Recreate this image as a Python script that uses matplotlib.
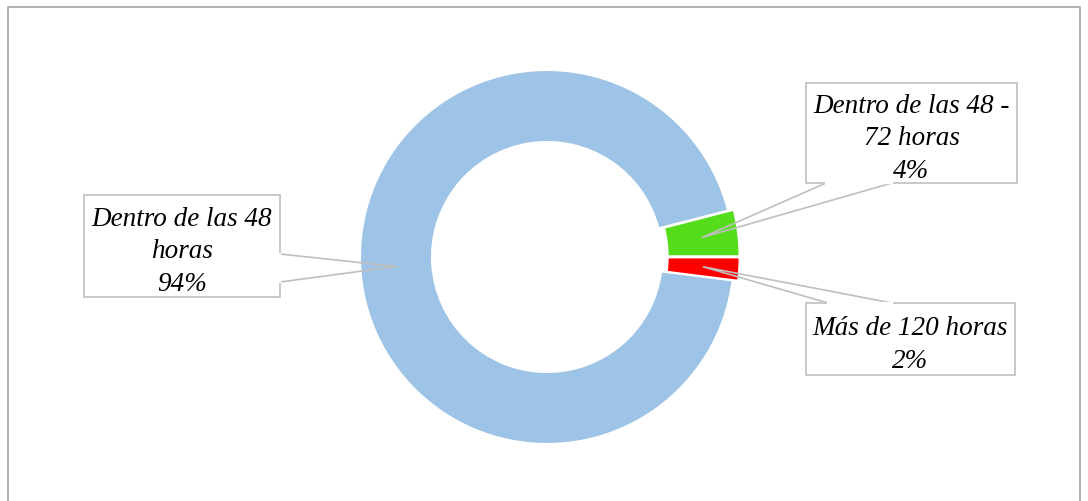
"""
Donut chart: tiempo de respuesta (recreation).
"""
import numpy as np
import matplotlib
matplotlib.use('Agg')
import matplotlib.pyplot as plt
from matplotlib.patches import Rectangle

# Data
labels = ['Dentro de las 48\nhoras', 'Dentro de las 48 -\n72 horas', 'Más de 120 horas']
values = [94, 4, 2]
colors = ['#9dc3e6', '#55dd1c', '#ff0000']
explode = [0.0, 0.03, 0.03]

# Label boxes in pixel coords (left, top, right, bottom) and leader base side
boxes = [(84, 196, 280, 298), (806, 84, 1017, 184), (806, 304, 1015, 376)]
bases = [((280, 255), (280, 283)), ((826, 184), (892, 184)), ((828, 304), (892, 304))]

W, H = 1088, 502
fig = plt.figure(figsize=(W / 100, H / 100), dpi=100)

# donut axes: center (547, 258), outer radius 187 px
cx, cy, R = 547, 258, 187
pie_ax = fig.add_axes([(cx - R) / W, (H - cy - R) / H, 2 * R / W, 2 * R / H])
wedges, _ = pie_ax.pie(values, colors=colors, explode=explode, startangle=352.8,
                       counterclock=False, radius=1.0,
                       wedgeprops=dict(width=0.385, edgecolor='white', linewidth=1.5))
pie_ax.set_xlim(-1, 1)
pie_ax.set_ylim(-1, 1)
pie_ax.set_aspect('equal')
pie_ax.axis('off')

# overlay axes in pixel coordinates
ov = fig.add_axes([0, 0, 1, 1], zorder=5)
ov.set_xlim(0, W)
ov.set_ylim(H, 0)
ov.axis('off')

# outer border
ov.plot([8, 8, 1080, 1080], [H, 8, 8, H], color='#a6a6a6', lw=1.2)

gray = '#bfbfbf'
for i, w in enumerate(wedges):
    # tip at mid-angle, mid-ring of the wedge
    ang = np.deg2rad((w.theta1 + w.theta2) / 2)
    r = 1 - 0.385 / 2
    px = w.center[0] + r * np.cos(ang)
    py = w.center[1] + r * np.sin(ang)
    tip = (cx + px * R, cy - py * R)

    l, t, rgt, b = boxes[i]
    ov.add_patch(Rectangle((l, t), rgt - l, b - t, facecolor='white',
                           edgecolor=gray, lw=1.2, zorder=2))
    (x1, y1), (x2, y2) = bases[i]
    ov.plot([x1, tip[0], x2], [y1, tip[1], y2], color=gray, lw=1.2, zorder=3)
    # hide box edge between the base points
    ov.plot([x1, x2], [y1, y2], color='white', lw=1.6, zorder=3)

    ov.text((l + rgt) / 2, (t + b) / 2 + 5, f'{labels[i]}\n{values[i]}%',
            ha='center', va='center', fontsize=19.5, style='italic',
            family='Liberation Serif', linespacing=1.4, zorder=4)

plt.savefig('out.png', dpi=100)
plt.close()
